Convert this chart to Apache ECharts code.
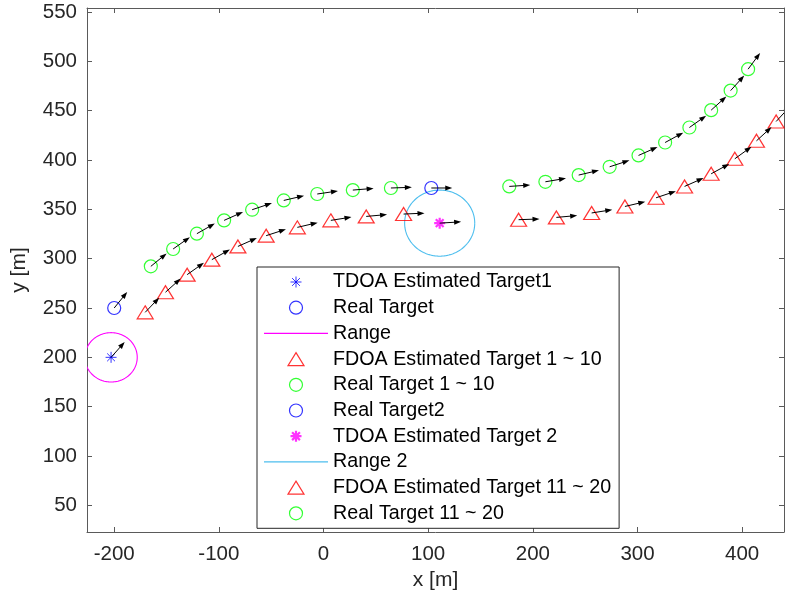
<!DOCTYPE html>
<html>
<head>
<meta charset="utf-8">
<script src="https://cdn.jsdelivr.net/npm/echarts@6/dist/echarts.min.js"></script>
<style>
  html, body { margin: 0; padding: 0; background: #fff; }
  #chart { width: 785px; height: 601px; }
</style>
</head>
<body>
<div id="chart"></div>
<script>
// ---- tick labels ----
const xTicks = [-200, -100, 0, 100, 200, 300, 400];
const yTicks = [50, 100, 150, 200, 250, 300, 350, 400, 450, 500, 550];

// ---- positions [x, y] in metres ----
const tdoaTarget1 = [[-203, 200]];
const realTarget = [[-200, 250]];
const rangeCircle1 = [[-203, 200, 25]];          // centre x, centre y, radius
const fdoaTargets1to10 = [
  [-170.4, 245.6], [-151, 266], [-130.3, 283.8], [-106.7, 299], [-81.8, 312.4],
  [-54.8, 323.3], [-25, 331.7], [7, 338.8], [40.8, 342.8], [76.5, 345.2]
];
const realTargets1to10 = [
  [-165, 292.2], [-143.7, 309.8], [-121, 325.3], [-95, 338.8], [-68.2, 349.6],
  [-38, 359], [-6, 365.5], [28, 369.5], [64.4, 371.6]
];
const realTarget2 = [[103, 371.6]];
const tdoaTarget2 = [[111, 336]];
const rangeCircle2 = [[111, 336, 33.5]];
const fdoaTargets11to20 = [
  [186.4, 339.5], [222.5, 341.8], [256.2, 346.3], [288, 352.9], [317.8, 361.7],
  [345, 373.2], [370.4, 386], [393, 401.2], [413.7, 419.4], [432.5, 439]
];
const realTargets11to20 = [
  [177.5, 373.2], [212, 377.9], [243.8, 384.7], [273.4, 393.1], [301, 404.6],
  [326.4, 417.7], [349.6, 432.9], [370.4, 450.5], [389, 470.3], [405.7, 492]
];

// ---- heading vectors [u, v] drawn from each position ----
const tdoaTarget1Heading = [[13, 15.5]];
const realTargetHeading = [[12.4, 16.2]];
const fdoa1to10Heading = [
  [13.4, 14.9], [14.5, 13.8], [16, 12], [17.2, 10.2], [18.1, 8.5],
  [18.9, 6.5], [19.4, 4.8], [19.7, 3.3], [19.9, 1.9], [20, 0.9]
];
const real1to10Heading = [
  [15.1, 13.1], [16, 12], [17.1, 10.3], [18.1, 8.5], [18.9, 6.7],
  [19.4, 4.8], [19.8, 3.1], [19.9, 1.7], [20, 0.7]
];
const realTarget2Heading = [[20, 0]];
const tdoaTarget2Heading = [[20.5, 1.3]];
const fdoa11to20Heading = [
  [20, 0.7], [19.9, 1.9], [19.7, 3.3], [19.4, 4.8], [18.9, 6.7],
  [18.1, 8.5], [17.3, 10], [15.9, 12.2], [14.4, 13.9], [13.1, 15.1]
];
const real11to20Heading = [
  [20, 1.4], [19.7, 3.5], [19.4, 4.8], [18.9, 6.5], [18.1, 8.5],
  [17.3, 10], [16, 12], [14.5, 13.8], [13, 15.2], [11.5, 16.4]
];

// ---- styling ----
const FONT = '"Liberation Sans", Arial, Helvetica, sans-serif';
const TEXT = '#262626';
const AXIS = '#5a5a5a';
const BLUE = '#0000ff', RED = '#ff0000', GREEN = '#00ff00', MAGENTA = '#ff00ff', CYAN = '#4dbeee';

const STAR = 'path://M0,5.5H11M5.5,0V11M1.6,1.6L9.4,9.4M9.4,1.6L1.6,9.4';
const STAR_ICON = 'path://M-1,-1M12,12M0,5.5H11M5.5,0V11M1.6,1.6L9.4,9.4M9.4,1.6L1.6,9.4';
const TRI_ICON = 'path://M8,0L16,13L0,13Z';
const LINE_ICON = 'path://M0,0H64V1.2H0Z';

function hollow(color, width) {
  return { color: 'transparent', borderColor: color, borderWidth: width };
}

function markerSeries(name, data, symbol, size, style) {
  return {
    name, type: 'scatter', data, symbol, symbolSize: size,
    itemStyle: style, silent: true, z: 3,
    emphasis: { disabled: true }
  };
}

// circle outline traced through the axis scales
function rangeSeries(name, data, color) {
  return {
    name, type: 'custom', data, silent: true, z: 2, clip: true,
    encode: { x: 0, y: 1 },
    renderItem(params, api) {
      const cx = api.value(0), cy = api.value(1), r = api.value(2);
      const pts = [];
      for (let k = 0; k <= 144; k++) {
        const t = (k / 144) * Math.PI * 2;
        pts.push(api.coord([cx + r * Math.cos(t), cy + r * Math.sin(t)]));
      }
      return { type: 'polyline', shape: { points: pts }, style: { stroke: color, lineWidth: 1.1, fill: null } };
    }
  };
}

// join positions with their heading vectors
function withHeading(points, headings) {
  return points.map((p, i) => [p[0], p[1], headings[i][0], headings[i][1]]);
}

const arrowData = [].concat(
  withHeading(tdoaTarget1, tdoaTarget1Heading),
  withHeading(realTarget, realTargetHeading),
  withHeading(fdoaTargets1to10, fdoa1to10Heading),
  withHeading(realTargets1to10, real1to10Heading),
  withHeading(realTarget2, realTarget2Heading),
  withHeading(tdoaTarget2, tdoaTarget2Heading),
  withHeading(fdoaTargets11to20, fdoa11to20Heading),
  withHeading(realTargets11to20, real11to20Heading)
);

const arrowSeries = {
  name: 'heading', type: 'custom', data: arrowData, silent: true, z: 5, clip: true,
  encode: { x: 0, y: 1 },
  renderItem(params, api) {
    const x = api.value(0), y = api.value(1);
    const p0 = api.coord([x, y]);
    const p1 = api.coord([x + api.value(2), y + api.value(3)]);
    const dx = p1[0] - p0[0], dy = p1[1] - p0[1];
    const len = Math.hypot(dx, dy);
    const ux = dx / len, uy = dy / len;
    const hl = 7, hw = 2.5;
    const bx = p1[0] - ux * hl, by = p1[1] - uy * hl;
    return {
      type: 'group',
      children: [
        { type: 'line', shape: { x1: p0[0], y1: p0[1], x2: bx + ux * 2, y2: by + uy * 2 },
          style: { stroke: '#000', lineWidth: 1 } },
        { type: 'polygon',
          shape: { points: [[p1[0], p1[1]], [bx - uy * hw, by + ux * hw], [bx + uy * hw, by - ux * hw]] },
          style: { fill: '#000' } }
      ]
    };
  }
};

const baseAxis = {
  type: 'value',
  splitLine: { show: false },
  axisLine: { show: true, onZero: false, lineStyle: { color: AXIS, width: 1 } },
};

const option = {
  animation: false,
  backgroundColor: '#fff',
  grid: { left: 87, right: 1, top: 8, bottom: 69, containLabel: false },
  xAxis: [
    Object.assign({}, baseAxis, {
      position: 'bottom', min: -226, max: 440,
      name: 'x [m]', nameLocation: 'middle', nameGap: 35,
      nameTextStyle: { fontFamily: FONT, fontSize: 21, color: TEXT },
      axisTick: { inside: true, length: 5, lineStyle: { color: AXIS }, customValues: xTicks },
      axisLabel: { customValues: xTicks, margin: 12, fontFamily: FONT, fontSize: 20.5, color: TEXT }
    }),
    Object.assign({}, baseAxis, {
      position: 'top', min: -226, max: 440,
      axisTick: { inside: true, length: 5, lineStyle: { color: AXIS }, customValues: xTicks },
      axisLabel: { show: false }
    })
  ],
  yAxis: [
    Object.assign({}, baseAxis, {
      position: 'left', min: 23, max: 554,
      name: 'y [m]', nameLocation: 'middle', nameGap: 57, nameRotate: 90,
      nameTextStyle: { fontFamily: FONT, fontSize: 21, color: TEXT },
      axisTick: { inside: true, length: 5, lineStyle: { color: AXIS }, customValues: yTicks },
      axisLabel: { customValues: yTicks, margin: 10, fontFamily: FONT, fontSize: 20.5, color: TEXT }
    }),
    Object.assign({}, baseAxis, {
      position: 'right', min: 23, max: 554,
      axisTick: { inside: true, length: 5, lineStyle: { color: AXIS }, customValues: yTicks },
      axisLabel: { show: false }
    })
  ],
  legend: {
    orient: 'vertical', left: 257, top: 267, padding: [5, 8, 5, 7],
    itemWidth: 64, itemHeight: 13, itemGap: 5.7,
    backgroundColor: '#fff', borderColor: '#262626', borderWidth: 1, borderRadius: 0,
    selectedMode: false,
    textStyle: { fontFamily: FONT, fontSize: 19.7, color: '#000', lineHeight: 20 },
    data: [
      { name: 'TDOA Estimated Target1', icon: STAR_ICON, itemStyle: hollow(BLUE, 1) },
      { name: 'Real Target', icon: 'circle', itemStyle: hollow(BLUE, 1.2) },
      { name: 'Range', icon: LINE_ICON, itemStyle: { color: MAGENTA, borderWidth: 0 } },
      { name: 'FDOA Estimated Target 1 ~ 10', icon: TRI_ICON, itemStyle: hollow(RED, 1.2) },
      { name: 'Real Target 1 ~ 10', icon: 'circle', itemStyle: hollow(GREEN, 1.2) },
      { name: 'Real Target2', icon: 'circle', itemStyle: hollow(BLUE, 1.2) },
      { name: 'TDOA Estimated Target 2', icon: STAR_ICON, itemStyle: hollow(MAGENTA, 2.2) },
      { name: 'Range 2', icon: LINE_ICON, itemStyle: { color: CYAN, borderWidth: 0 } },
      { name: 'FDOA Estimated Target 11 ~ 20', icon: TRI_ICON, itemStyle: hollow(RED, 1.2) },
      { name: 'Real Target 11 ~ 20', icon: 'circle', itemStyle: hollow(GREEN, 1.2) }
    ]
  },
  series: [
    markerSeries('TDOA Estimated Target1', tdoaTarget1, STAR, 11, hollow(BLUE, 1)),
    markerSeries('Real Target', realTarget, 'circle', 13, hollow(BLUE, 1.2)),
    rangeSeries('Range', rangeCircle1, MAGENTA),
    markerSeries('FDOA Estimated Target 1 ~ 10', fdoaTargets1to10, 'triangle', [16, 13], hollow(RED, 1.2)),
    markerSeries('Real Target 1 ~ 10', realTargets1to10, 'circle', 13, hollow(GREEN, 1.2)),
    markerSeries('Real Target2', realTarget2, 'circle', 13, hollow(BLUE, 1.2)),
    markerSeries('TDOA Estimated Target 2', tdoaTarget2, STAR, 11, hollow(MAGENTA, 2.2)),
    rangeSeries('Range 2', rangeCircle2, CYAN),
    markerSeries('FDOA Estimated Target 11 ~ 20', fdoaTargets11to20, 'triangle', [16, 13], hollow(RED, 1.2)),
    markerSeries('Real Target 11 ~ 20', realTargets11to20, 'circle', 13, hollow(GREEN, 1.2)),
    arrowSeries
  ]
};

const chart = echarts.init(document.getElementById('chart'), null, { renderer: 'canvas' });
chart.setOption(option);
</script>
</body>
</html>
